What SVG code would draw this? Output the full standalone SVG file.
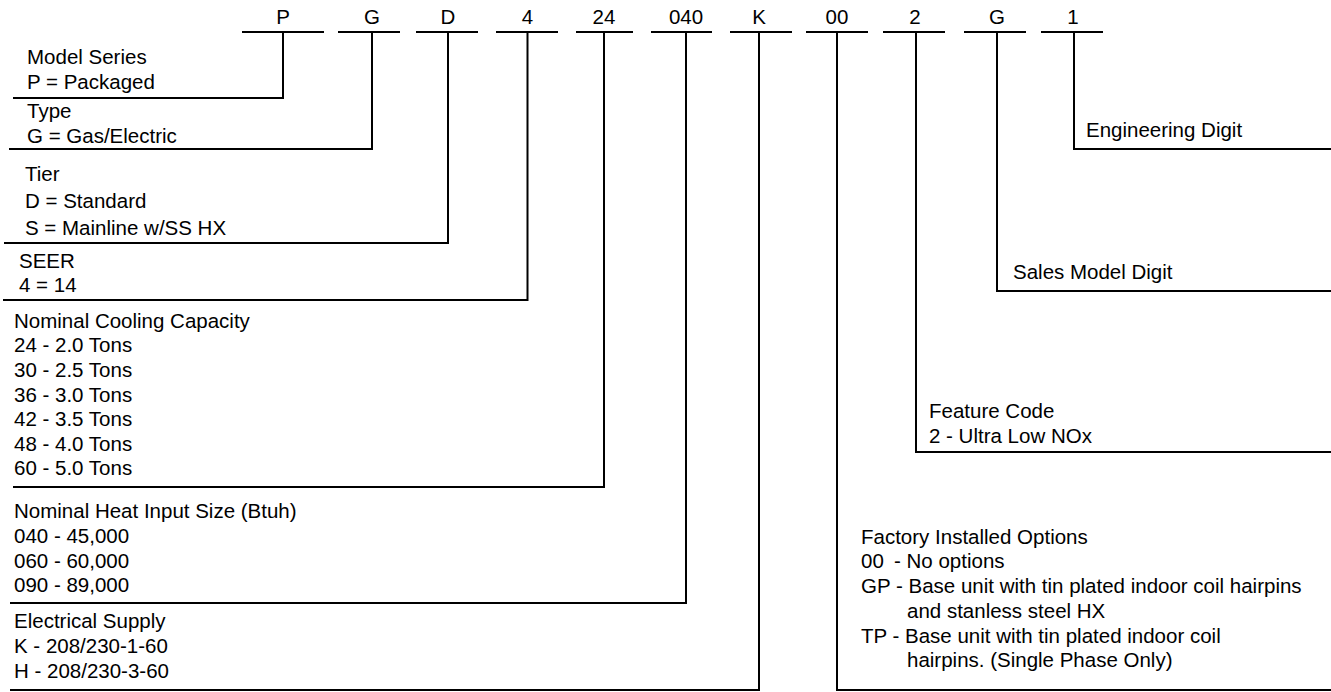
<svg xmlns="http://www.w3.org/2000/svg" width="1331" height="692" viewBox="0 0 1331 692">
<style>
text{font-family:"Liberation Sans",Arial,Helvetica,sans-serif;font-size:20.5px;fill:#000}
.c{text-anchor:middle}
.ln{stroke:#000;stroke-width:2;fill:none}
</style>
<rect width="1331" height="692" fill="#fff"/>
<g id="codes">
<text class="c" x="283" y="24">P</text>
<text class="c" x="372" y="24">G</text>
<text class="c" x="448" y="24">D</text>
<text class="c" x="527.5" y="24">4</text>
<text class="c" x="604" y="24">24</text>
<text class="c" x="686" y="24">040</text>
<text class="c" x="759" y="24">K</text>
<text class="c" x="837" y="24">00</text>
<text class="c" x="915" y="24">2</text>
<text class="c" x="997" y="24">G</text>
<text class="c" x="1073" y="24">1</text>
</g>
<g id="connectors" class="ln">
<path d="M242 32H324M338 32H400M416 32H478M496 32H558M576 32H633M651 32H712M730 32H792M806 32H868M883 32H945M964 32H1026M1041 32H1103"/>
<path d="M283 32V98H13"/>
<path d="M372 32V149H9"/>
<path d="M448 32V243H4"/>
<path d="M527.5 32V300H3"/>
<path d="M604 32V487H13"/>
<path d="M686 32V603H10"/>
<path d="M759 32V690H10"/>
<path d="M837 32V690H1331"/>
<path d="M916 32V452H1331"/>
<path d="M997 32V291H1331"/>
<path d="M1074 32V149H1331"/>
</g>
<g id="model-series">
<text x="27" y="64">Model Series</text>
<text x="27" y="89">P = Packaged</text>
</g>
<g id="type">
<text x="27" y="118">Type</text>
<text x="27" y="143">G = Gas/Electric</text>
</g>
<g id="tier">
<text x="25" y="181">Tier</text>
<text x="25" y="208">D = Standard</text>
<text x="25" y="235">S = Mainline w/SS HX</text>
</g>
<g id="seer">
<text x="19" y="268">SEER</text>
<text x="19" y="292">4 = 14</text>
</g>
<g id="cooling">
<text x="14" y="328">Nominal Cooling Capacity</text>
<text x="14" y="352">24 - 2.0 Tons</text>
<text x="14" y="377">30 - 2.5 Tons</text>
<text x="14" y="402">36 - 3.0 Tons</text>
<text x="14" y="426">42 - 3.5 Tons</text>
<text x="14" y="451">48 - 4.0 Tons</text>
<text x="14" y="475">60 - 5.0 Tons</text>
</g>
<g id="heat">
<text x="14" y="518">Nominal Heat Input Size (Btuh)</text>
<text x="14" y="543">040 - 45,000</text>
<text x="14" y="568">060 - 60,000</text>
<text x="14" y="592">090 - 89,000</text>
</g>
<g id="electrical">
<text x="14" y="628">Electrical Supply</text>
<text x="14" y="653">K - 208/230-1-60</text>
<text x="14" y="678">H - 208/230-3-60</text>
</g>
<g id="options">
<text x="861" y="544">Factory Installed Options</text>
<text x="861" y="568">00</text>
<text x="894" y="568">- No options</text>
<text x="861" y="593">GP - Base unit with tin plated indoor coil hairpins</text>
<text x="907" y="618">and stanless steel HX</text>
<text x="861" y="643">TP - Base unit with tin plated indoor coil</text>
<text x="907" y="667">hairpins. (Single Phase Only)</text>
</g>
<g id="feature">
<text x="929" y="418">Feature Code</text>
<text x="929" y="443">2 - Ultra Low NOx</text>
</g>
<g id="sales">
<text x="1013" y="279">Sales Model Digit</text>
</g>
<g id="engineering">
<text x="1086" y="137">Engineering Digit</text>
</g>
</svg>
